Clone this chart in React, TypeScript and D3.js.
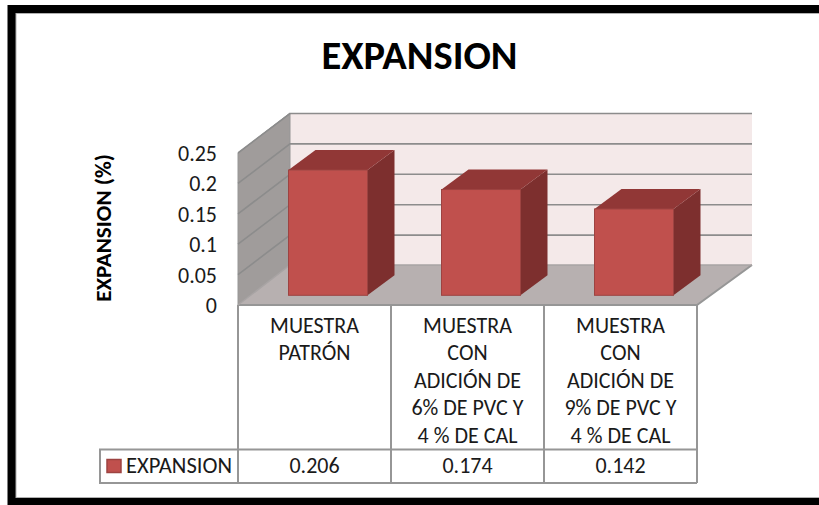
import React from "react";
import * as d3 from "d3";

const categories: string[][] = [
  ["MUESTRA", "PATRÓN"],
  ["MUESTRA", "CON", "ADICIÓN DE", "6% DE PVC Y", "4 % DE CAL"],
  ["MUESTRA", "CON", "ADICIÓN DE", "9% DE PVC Y", "4 % DE CAL"],
];
const expansion = [0.206, 0.174, 0.142];
const valueLabels = ["0.206", "0.174", "0.142"];
const ticks = [0, 0.05, 0.1, 0.15, 0.2, 0.25];
const tickLabels = ["0", "0.05", "0.1", "0.15", "0.2", "0.25"];

const W = 819;
const H = 505;
const FONT = "Carlito, Calibri, Lato, 'Open Sans', sans-serif";
const TEXT = "#1a1a1a";
const depthX = 52;
const depthY = 40;
const x0 = 238;
const x1 = 697;
const yBase = 305;
const yTop = 153;
const barWidth = 79;

const pts = (p: [number, number][]) => p.map((d) => d.join(",")).join(" ");

export default function App() {
  const y = d3.scaleLinear().domain([0, 0.25]).range([yBase, yTop]);
  const band = d3.scaleBand<number>().domain([0, 1, 2]).range([x0, x1]);
  const bw = band.bandwidth();
  const gridColor = "#969696";

  return (
    <svg
      width={W}
      height={H}
      style={{ position: "absolute", left: 0, top: 0, background: "#fff" }}
    >
      {/* black frame: open on the right, where it runs off the canvas */}
      <rect x={7.5} y={5} width={W} height={H} fill="#000" />
      <rect x={16} y={13.5} width={W} height={484} fill="#fff" stroke="#b0b0b0" strokeWidth={1} />

      <text x={419.5} y={69} textAnchor="middle" fontFamily={FONT} fontSize={40.5} fontWeight={700} fill="#000">
        EXPANSION
      </text>
      <text
        transform="translate(110.5,228) rotate(-90)"
        textAnchor="middle"
        fontFamily={FONT}
        fontSize={23}
        fontWeight={700}
        fill="#000"
      >
        EXPANSION (%)
      </text>

      {/* back wall, side wall and floor of the 3D box */}
      <rect x={x0 + depthX} y={y(0.25) - depthY} width={x1 - x0 + 3} height={yBase - yTop} fill="#f4e9e9" />
      <polygon
        points={pts([
          [x0, yBase],
          [x0, yTop],
          [x0 + depthX, yTop - depthY],
          [x0 + depthX, yBase - depthY],
        ])}
        fill="#a09c9b"
        stroke={gridColor}
      />
      <polygon
        points={pts([
          [x0, yBase],
          [x1, yBase],
          [x1 + depthX + 3, yBase - depthY],
          [x0 + depthX, yBase - depthY],
        ])}
        fill="#b7b0b0"
      />
      <polyline
        points={pts([
          [x0, yBase],
          [x1, yBase],
          [x1 + depthX + 3, yBase - depthY],
        ])}
        fill="none"
        stroke={gridColor}
        strokeWidth={2}
      />

      {/* gridlines run along the side wall and across the back wall */}
      {ticks.map((t) =>
        t === 0 ? (
          <polyline
            key={t}
            points={pts([
              [x0, y(t)],
              [x0 + depthX, y(t) - depthY],
              [x1 + depthX + 3, y(t) - depthY],
            ])}
            fill="none"
            stroke="#a8a4a4"
            strokeWidth={1.5}
          />
        ) : (
          <polyline
            key={t}
            points={pts([
              [x0, y(t)],
              [x0 + depthX, y(t) - depthY + 0.5],
              [x1 + depthX + 3, y(t) - depthY + 0.5],
            ])}
            fill="none"
            stroke="#8c8c8c"
            strokeWidth={1.6}
          />
        )
      )}

      {expansion.map((v, i) => {
        const left = band(i)! + bw / 2 + 13.5 - barWidth / 2;
        const right = left + barWidth;
        const dx = 27;
        const dy = 20;
        const bottom = y(0) - 9.7;
        const top = bottom - (yBase - y(v));
        return (
          <g key={i}>
            <polygon
              points={pts([
                [right, bottom],
                [right, top],
                [right + dx, top - dy],
                [right + dx, bottom - dy],
              ])}
              fill="#7d2f2e"
            />
            <polygon
              points={pts([
                [left, top],
                [right, top],
                [right + dx, top - dy],
                [left + dx, top - dy],
              ])}
              fill="#913736"
            />
            <rect x={left} y={top} width={barWidth} height={bottom - top} fill="#c0504d" stroke="#9d4341" strokeWidth={1} />
          </g>
        );
      })}

      {ticks.map((t, i) => (
        <text key={t} x={217} y={y(t) + 8} textAnchor="end" fontFamily={FONT} fontSize={22} fill={TEXT}>
          {tickLabels[i]}
        </text>
      ))}

      {/* data table below the plot */}
      <g stroke={gridColor} strokeWidth={2} fill="none">
        <path d={`M${x0} ${yBase}V483M${x0 + bw} ${yBase}V483M${x0 + 2 * bw} ${yBase}V483M${x1} ${yBase}V483`} />
        <path d={`M100 449.5H${x1}M100 483H${x1}M100 448.5V484`} />
      </g>
      <rect x={107} y={459.5} width={14} height={13} fill="#c0504d" stroke="#9d4341" strokeWidth={1.5} />
      <text x={126} y={473} fontFamily={FONT} fontSize={22.6} fill={TEXT}>EXPANSION</text>
      {categories.map((lines, i) => (
        <g key={i}>
          {lines.map((l, j) => (
            <text
              key={j}
              x={band(i)! + bw / 2}
              y={333 + j * 27.4}
              textAnchor="middle"
              fontFamily={FONT}
              fontSize={22}
              fill={TEXT}
            >
              {l}
            </text>
          ))}
          <text x={band(i)! + bw / 2} y={473} textAnchor="middle" fontFamily={FONT} fontSize={22} fill={TEXT}>
            {valueLabels[i]}
          </text>
        </g>
      ))}
    </svg>
  );
}
